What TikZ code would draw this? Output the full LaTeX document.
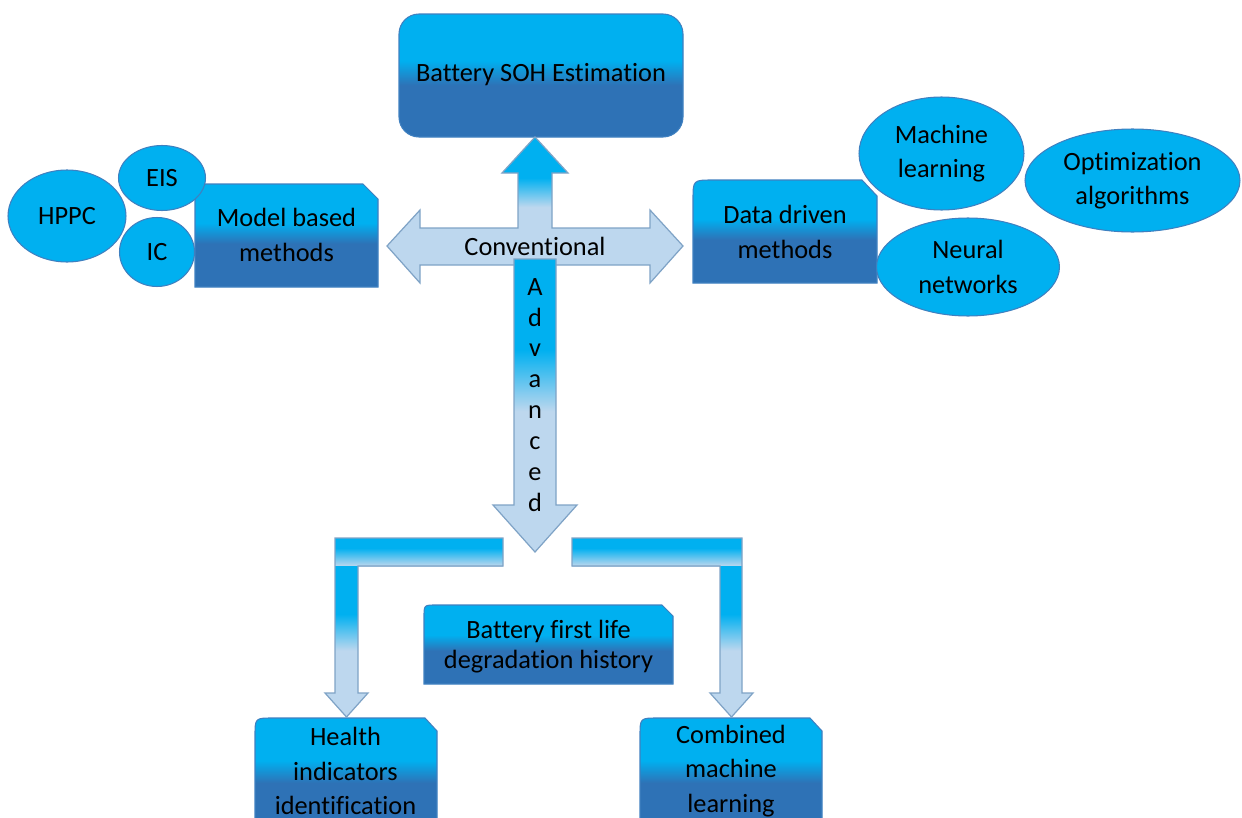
\documentclass[tikz,border=0pt]{standalone}
\usepackage{fontspec}
\setmainfont{Carlito}[Ligatures=NoCommon]
\usetikzlibrary{shapes.geometric}

\definecolor{skyA}{HTML}{00B0F0}
\definecolor{navyB}{HTML}{2E72B6}
\definecolor{paleC}{HTML}{BDD7EE}
\definecolor{rimD}{HTML}{7FA3C6}
\definecolor{rimE}{HTML}{3F80C0}

\pgfdeclareverticalshading{boxfade}{100bp}{color(0bp)=(navyB); color(46bp)=(navyB); color(56bp)=(skyA); color(100bp)=(skyA)}
\pgfdeclareverticalshading{crossfade}{100bp}{color(0bp)=(paleC); color(51bp)=(paleC); color(61bp)=(skyA); color(100bp)=(skyA)}
\pgfdeclareverticalshading{downfade}{100bp}{color(0bp)=(paleC); color(49bp)=(paleC); color(59.5bp)=(skyA); color(100bp)=(skyA)}
\pgfdeclareverticalshading{barfade}{100bp}{color(0bp)=(paleC); color(25bp)=(paleC); color(57bp)=(skyA); color(100bp)=(skyA)}
\pgfdeclareverticalshading{shaftfade}{100bp}{color(0bp)=(paleC); color(47bp)=(paleC); color(59bp)=(skyA); color(100bp)=(skyA)}

\newcommand\diagfont{\fontsize{15}{19.5}\selectfont}

\tikzset{
	boxfill/.style={shading=boxfade, draw=rimE, line width=0.6pt},
	bubble/.style={ellipse, fill=skyA, draw=rimE, line width=0.6pt, inner sep=0pt, align=center, font=\diagfont},
	blockarrow/.style={draw=rimD, line width=0.7pt, line join=miter},
	txt/.style={align=center, inner sep=0pt, font=\diagfont}
}

\begin{document}
\begin{tikzpicture}[x=0.02cm, y=-0.02cm]
		\useasboundingbox (0,0) rectangle (1242,818);
		\clip (0,0) rectangle (1242,818);
		\path
		(541,75) coordinate (S)
		(286.5,235) coordinate (M)
		(785,232) coordinate (D)
		(535,246) coordinate (C)
		(535,395) coordinate (A)
		(548.5,647) coordinate (F)
		(345.5,771) coordinate (H)
		(731,771) coordinate (L)
		;
		% boxes
		\draw[boxfill, rounded corners=0.4cm] (399,14) rectangle (683,137);
		\draw[boxfill] (195,287) -- (195,184) -- (363,184) -- (378,199) -- (378,287) -- cycle;
		\draw[boxfill] (693,283) -- (693,200) .. controls (693,180) .. (713,180) -- (862,180) -- (877,196) -- (877,283) -- cycle;
		\draw[boxfill] (424,684) -- (424,617) .. controls (424,605) .. (436,605) -- (662,605) -- (673,616) -- (673,684) -- cycle;
		\draw[boxfill] (255,830) -- (255,736) .. controls (255,718) .. (273,718) -- (425,718) -- (437,731) -- (437,830) -- cycle;
		\draw[boxfill] (640,830) -- (640,736) .. controls (640,718) .. (658,718) -- (810,718) -- (822,731) -- (822,830) -- cycle;
		
		% cross arrow and down arrow
		\draw[blockarrow, shading=crossfade]
		(387,246) -- (420,210) -- (420,228) -- (518,228) -- (518,173) -- (502,173) -- (535,137)
		-- (568,173) -- (552,173) -- (552,228) -- (650,228) -- (650,210) -- (683,246)
		-- (650,283) -- (650,265) -- (420,265) -- (420,283) -- cycle;
		\draw[blockarrow, shading=downfade]
		(514,259) -- (556,259) -- (556,505) -- (577,505) -- (535,552) -- (493,505) -- (514,505) -- cycle;
		
		% bent arrows
		\shade[shading=barfade] (335,538) rectangle (503,566);
		\shade[shading=shaftfade] (335,566) -- (335,693) -- (325,693) -- (346.5,717) -- (368,693) -- (358,693) -- (358,566) -- cycle;
		\draw[blockarrow] (503,538) -- (335,538) -- (335,693) -- (325,693) -- (346.5,717) -- (368,693) -- (358,693) -- (358,566) -- (503,566) -- cycle;
		
		\shade[shading=barfade] (572,538) rectangle (742,566);
		\shade[shading=shaftfade] (720,566) -- (720,693) -- (710,693) -- (731.5,717) -- (753,693) -- (742,693) -- (742,566) -- cycle;
		\draw[blockarrow] (572,538) -- (742,538) -- (742,693) -- (753,693) -- (731.5,717) -- (710,693) -- (720,693) -- (720,566) -- (572,566) -- cycle;
		
		% ellipses
		\node[bubble, minimum width=2.36cm, minimum height=1.84cm] (hppc) at (67,216) {HPPC};
		\node[bubble, minimum width=1.74cm, minimum height=1.3cm] (eis) at (162,178) {EIS};
		\node[bubble, minimum width=1.5cm, minimum height=1.38cm] (ic) at (157,252) {IC};
		\node[bubble, minimum width=3.3cm, minimum height=2.26cm] (ml) at (941.5,153.5) {Machine\\learning};
		\node[bubble, minimum width=4.3cm, minimum height=2.06cm] (opt) at (1132.5,180.5) {Optimization\\algorithms};
		\node[bubble, minimum width=3.66cm, minimum height=1.96cm] (nn) at (968,267) {Neural\\networks};
		
		% labels
		\node[txt] (soh) at (S) {Battery SOH Estimation};
		\node[txt] (model) at (M) {Model based\\methods};
		\node[txt] (data) at (D) {Data driven\\methods};
		\node[txt] (conv) at (C) {Conventional};
		\node[txt, font=\fontsize{15}{17.6}\selectfont] (adv) at (A) {A\\d\\v\\a\\n\\c\\e\\d};
		\node[txt, font=\fontsize{15}{17}\selectfont] (first) at (F) {Battery first life\\degradation history};
		\node[txt] (health) at (H) {Health\\indicators\\identification};
		\node[txt] (comb) at (L) {Combined\\machine\\learning};
	\end{tikzpicture}
\end{document}
